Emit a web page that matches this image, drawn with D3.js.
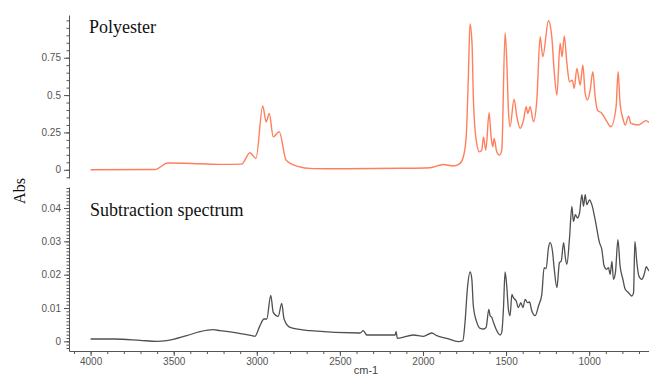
<!DOCTYPE html>
<html>
<head>
<meta charset="utf-8">
<script src="https://cdn.jsdelivr.net/npm/d3@7"></script>
<style>
  body { margin: 0; background: #fff; }
  svg { display: block; }
</style>
</head>
<body>
<div id="chart"></div>
<script>
// polyester reference spectrum
const polyWn = [4000, 3613, 3535, 3342, 3222, 3091, 3041, 3005, 2964, 2944, 2925, 2901, 2865, 2824, 2760, 2662, 2459, 2138, 1957, 1879, 1817, 1777, 1757, 1740, 1727, 1717, 1705, 1697, 1680, 1660, 1646, 1636, 1622, 1602, 1590, 1580, 1572, 1556, 1540, 1526, 1506, 1496, 1486, 1476, 1452, 1435, 1415, 1395, 1379, 1369, 1355, 1335, 1315, 1295, 1279, 1245, 1225, 1211, 1194, 1175, 1163, 1150, 1134, 1119, 1102, 1090, 1074, 1054, 1038, 1024, 1010, 994, 978, 964, 950, 924, 893, 869, 838, 826, 814, 797, 783, 763, 749, 703, 658, 640];
const polyAbs = [0.0, 0.002, 0.045, 0.04, 0.036, 0.038, 0.114, 0.076, 0.427, 0.32, 0.377, 0.22, 0.255, 0.065, 0.025, 0.008, 0.007, 0.01, 0.014, 0.035, 0.025, 0.043, 0.087, 0.22, 0.62, 0.976, 0.846, 0.489, 0.2, 0.12, 0.132, 0.22, 0.132, 0.382, 0.22, 0.153, 0.21, 0.12, 0.098, 0.132, 0.918, 0.735, 0.4, 0.288, 0.472, 0.355, 0.277, 0.333, 0.422, 0.378, 0.422, 0.322, 0.467, 0.891, 0.757, 0.998, 0.891, 0.668, 0.5, 0.847, 0.757, 0.896, 0.713, 0.589, 0.6, 0.545, 0.679, 0.567, 0.701, 0.511, 0.467, 0.533, 0.657, 0.489, 0.4, 0.378, 0.322, 0.288, 0.422, 0.657, 0.444, 0.344, 0.3, 0.359, 0.31, 0.3, 0.329, 0.316];

// subtraction spectrum
const subWn = [4000, 3854, 3703, 3603, 3542, 3422, 3342, 3262, 3222, 3141, 3031, 3011, 2981, 2957, 2940, 2916, 2901, 2871, 2850, 2836, 2800, 2680, 2379, 2359, 2338, 2168, 2162, 2154, 2058, 1998, 1947, 1917, 1857, 1787, 1760, 1747, 1733, 1716, 1706, 1697, 1676, 1656, 1636, 1620, 1604, 1596, 1586, 1576, 1556, 1536, 1526, 1516, 1506, 1496, 1486, 1476, 1465, 1456, 1439, 1426, 1411, 1399, 1385, 1371, 1359, 1345, 1325, 1305, 1285, 1271, 1259, 1245, 1235, 1221, 1211, 1194, 1179, 1168, 1154, 1142, 1134, 1119, 1104, 1095, 1083, 1071, 1058, 1044, 1034, 1024, 1014, 998, 984, 964, 938, 924, 910, 894, 884, 874, 863, 854, 842, 827, 814, 797, 783, 763, 743, 733, 725, 713, 701, 683, 669, 656, 646, 638];
const subAbs = [0.0007, 0.0007, 0.0003, 0.0, 0.0002, 0.0017, 0.0029, 0.0035, 0.0032, 0.0027, 0.0017, 0.0015, 0.0047, 0.0067, 0.0067, 0.0138, 0.0087, 0.0075, 0.0114, 0.0067, 0.0042, 0.0032, 0.0025, 0.0032, 0.0019, 0.0019, 0.0029, 0.0009, 0.0019, 0.0015, 0.0025, 0.0017, 0.0009, -0.0001, 0.0002, 0.0057, 0.0157, 0.0208, 0.0186, 0.0106, 0.0057, 0.0039, 0.0037, 0.0042, 0.0096, 0.0077, 0.0072, 0.0057, 0.0032, 0.0019, 0.0027, 0.0096, 0.0208, 0.0166, 0.0096, 0.0077, 0.0141, 0.0131, 0.0121, 0.0101, 0.0116, 0.0101, 0.0126, 0.0116, 0.0118, 0.0091, 0.0077, 0.0106, 0.0141, 0.0221, 0.0218, 0.028, 0.0296, 0.0271, 0.0221, 0.0161, 0.0236, 0.0241, 0.0296, 0.0246, 0.0231, 0.0305, 0.0405, 0.036, 0.038, 0.037, 0.0385, 0.044, 0.0405, 0.044, 0.041, 0.0424, 0.041, 0.0365, 0.0296, 0.0276, 0.0226, 0.0216, 0.0221, 0.0201, 0.024, 0.0186, 0.0206, 0.0305, 0.0226, 0.0186, 0.0156, 0.0146, 0.0136, 0.0146, 0.03, 0.0236, 0.0196, 0.0186, 0.0201, 0.0224, 0.0216, 0.0211];

const topTicks = [0, 0.25, 0.5, 0.75];
const bottomTicks = [0, 0.01, 0.02, 0.03, 0.04];
const xTicks = [4000, 3500, 3000, 2500, 2000, 1500, 1000];

const width = 649, height = 376;
const left = 69;

const svg = d3.select("#chart").append("svg")
    .attr("width", width)
    .attr("height", height);

const x = d3.scaleLinear().domain([4130, 640]).range([left, width]);
const yTop = d3.scaleLinear().domain([-0.055, 1.036]).range([178, 15]);
const yBot = d3.scaleLinear().domain([-0.0029, 0.0463]).range([351, 187]);

const axisColor = "#555";

function drawYAxis(scale, ticks, minorStep, fmt) {
    const dom = scale.domain();
    const minor = d3.range(Math.ceil(dom[0] / minorStep) * minorStep, dom[1], minorStep);
    const g = svg.append("g").attr("transform", `translate(${left},0)`);
    g.append("g")
        .call(d3.axisLeft(scale).tickValues(minor).tickSize(2.5).tickFormat(""))
        .call(a => a.select(".domain").remove());
    g.append("g")
        .call(d3.axisLeft(scale).tickValues(ticks).tickSize(5).tickSizeOuter(0).tickFormat(fmt));
    g.selectAll("line, path").attr("stroke", axisColor);
    g.selectAll("text")
        .attr("fill", "#555")
        .style("font-family", "'Liberation Sans', Arial, sans-serif")
        .style("font-size", "10px");
}

drawYAxis(yTop, topTicks, 0.05, d => d === 0 ? "0" : String(d));
drawYAxis(yBot, bottomTicks, 0.001, d => d === 0 ? "0" : d3.format(".2f")(d));

// x axis
const xg = svg.append("g").attr("transform", "translate(0,351)");
xg.append("g")
    .call(d3.axisBottom(x).tickValues(d3.range(4100, 600, -100)).tickSize(3).tickFormat(""))
    .call(a => a.select(".domain").remove());
xg.append("g")
    .call(d3.axisBottom(x).tickValues(xTicks).tickSize(5).tickSizeOuter(0).tickFormat(d3.format("d")))
    .call(a => a.selectAll("text").attr("dy", "0.6em"));
xg.selectAll("line, path").attr("stroke", axisColor);
xg.selectAll("text")
    .attr("fill", "#555")
    .style("font-family", "'Liberation Sans', Arial, sans-serif")
    .style("font-size", "10px");

// spectra
const polyData = polyWn.map((w, i) => [w, polyAbs[i]]);
const subData = subWn.map((w, i) => [w, subAbs[i]]);

svg.append("path")
    .datum(polyData)
    .attr("fill", "none")
    .attr("stroke", "#ff7f5c")
    .attr("stroke-width", 1.4)
    .attr("d", d3.line().x(d => x(d[0])).y(d => yTop(d[1])).curve(d3.curveMonotoneX));

svg.append("path")
    .datum(subData)
    .attr("fill", "none")
    .attr("stroke", "#505050")
    .attr("stroke-width", 1.3)
    .attr("d", d3.line().x(d => x(d[0])).y(d => yBot(d[1])).curve(d3.curveMonotoneX));

// labels
const serif = "'Liberation Serif', 'Times New Roman', serif";
svg.append("text")
    .attr("x", 89).attr("y", 33)
    .style("font-family", serif).style("font-size", "18px")
    .attr("fill", "#111")
    .text("Polyester");

svg.append("text")
    .attr("x", 90).attr("y", 216)
    .style("font-family", serif).style("font-size", "18px")
    .attr("fill", "#111")
    .text("Subtraction spectrum");

svg.append("text")
    .attr("transform", "translate(25,191) rotate(-90)")
    .attr("text-anchor", "middle")
    .style("font-family", serif).style("font-size", "16px")
    .attr("fill", "#111")
    .text("Abs");

svg.append("text")
    .attr("x", 366).attr("y", 374)
    .attr("text-anchor", "middle")
    .style("font-family", "'Liberation Sans', Arial, sans-serif")
    .style("font-size", "11px")
    .attr("fill", "#444")
    .text("cm-1");
</script>
</body>
</html>
